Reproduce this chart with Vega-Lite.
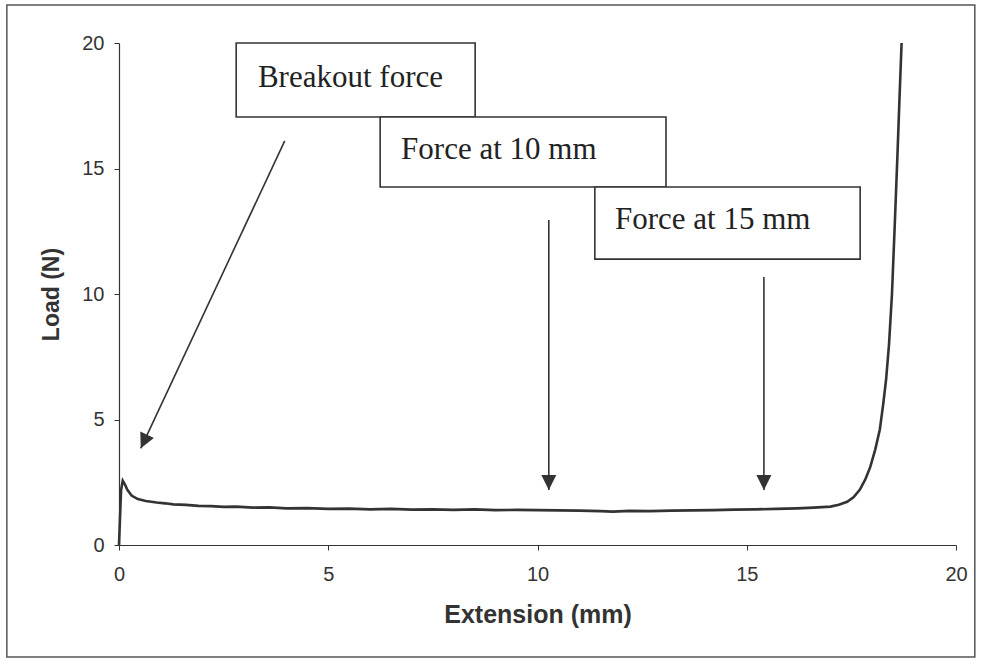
{
  "$schema": "https://vega.github.io/schema/vega-lite/v6.json",
  "width": 837,
  "height": 502,
  "autosize": {"type": "none"},
  "padding": {"left": 119, "top": 43, "right": 26, "bottom": 116},
  "background": "white",
  "config": {
    "view": {"stroke": null},
    "axis": {
      "grid": false,
      "domainColor": "#333",
      "domainWidth": 1.2,
      "tickColor": "#333",
      "tickSize": 5,
      "labelColor": "#333",
      "labelFont": "Liberation Sans",
      "labelFontSize": 20,
      "labelFlush": false,
      "labelOverlap": false,
      "titleColor": "#333",
      "titleFont": "Liberation Sans",
      "titleFontWeight": "bold"
    }
  },
  "datasets": {
    "curve": [
      {"ext": 0.0, "load": 0.0},
      {"ext": 0.02, "load": 0.9},
      {"ext": 0.05, "load": 2.2},
      {"ext": 0.09, "load": 2.56},
      {"ext": 0.14, "load": 2.42},
      {"ext": 0.2, "load": 2.2},
      {"ext": 0.3, "load": 1.97},
      {"ext": 0.45, "load": 1.83},
      {"ext": 0.64, "load": 1.75},
      {"ext": 0.9, "load": 1.69},
      {"ext": 1.1, "load": 1.66},
      {"ext": 1.3, "load": 1.62},
      {"ext": 1.6, "load": 1.6},
      {"ext": 1.9, "load": 1.56},
      {"ext": 2.2, "load": 1.55},
      {"ext": 2.5, "load": 1.52},
      {"ext": 2.8, "load": 1.53},
      {"ext": 3.2, "load": 1.49},
      {"ext": 3.6, "load": 1.5},
      {"ext": 4.0, "load": 1.46},
      {"ext": 4.5, "load": 1.47},
      {"ext": 5.0, "load": 1.44},
      {"ext": 5.5, "load": 1.45},
      {"ext": 6.0, "load": 1.42},
      {"ext": 6.5, "load": 1.44},
      {"ext": 7.0, "load": 1.41},
      {"ext": 7.5, "load": 1.42},
      {"ext": 8.0, "load": 1.4},
      {"ext": 8.5, "load": 1.42},
      {"ext": 9.0, "load": 1.39},
      {"ext": 9.5, "load": 1.4},
      {"ext": 10.0, "load": 1.39},
      {"ext": 10.5, "load": 1.38},
      {"ext": 11.0, "load": 1.37},
      {"ext": 11.5, "load": 1.35},
      {"ext": 11.8, "load": 1.33},
      {"ext": 12.2, "load": 1.36},
      {"ext": 12.7, "load": 1.35},
      {"ext": 13.2, "load": 1.37},
      {"ext": 13.7, "load": 1.38},
      {"ext": 14.2, "load": 1.39},
      {"ext": 14.7, "load": 1.41},
      {"ext": 15.2, "load": 1.42},
      {"ext": 15.7, "load": 1.44},
      {"ext": 16.2, "load": 1.46},
      {"ext": 16.6, "load": 1.49},
      {"ext": 17.0, "load": 1.53},
      {"ext": 17.2, "load": 1.6},
      {"ext": 17.4, "load": 1.72},
      {"ext": 17.55, "load": 1.9},
      {"ext": 17.7, "load": 2.2},
      {"ext": 17.83, "load": 2.6},
      {"ext": 17.95, "load": 3.1},
      {"ext": 18.07, "load": 3.8},
      {"ext": 18.18, "load": 4.6},
      {"ext": 18.26, "load": 5.6},
      {"ext": 18.33, "load": 6.6},
      {"ext": 18.4, "load": 8.0},
      {"ext": 18.47, "load": 10.0},
      {"ext": 18.54, "load": 12.9},
      {"ext": 18.6, "load": 15.5},
      {"ext": 18.65, "load": 17.8},
      {"ext": 18.7, "load": 20.0}
    ],
    "arrows": [
      {"x": 3.96, "y": 16.1, "x2": 0.52, "y2": 3.85, "angle": 25},
      {"x": 10.27, "y": 12.95, "x2": 10.27, "y2": 2.19, "angle": 0},
      {"x": 15.41, "y": 10.68, "x2": 15.41, "y2": 2.19, "angle": 0}
    ],
    "boxes": [
      {"x": 2.8, "x2": 8.51, "y": 20.0, "y2": 17.05, "tx": 3.32, "ty": 18.6, "label": "Breakout force"},
      {"x": 6.24, "x2": 13.07, "y": 17.05, "y2": 14.26, "tx": 6.74, "ty": 15.75, "label": "Force at 10 mm"},
      {"x": 11.37, "x2": 17.71, "y": 14.26, "y2": 11.39, "tx": 11.85, "ty": 12.95, "label": "Force at 15 mm"}
    ],
    "frame": [
      {"x": -2.68, "x2": 20.45, "y": 21.51, "y2": -4.46}
    ]
  },
  "layer": [
    {
      "data": {"name": "frame"},
      "mark": {"type": "rect", "fill": null, "fillOpacity": 0, "stroke": "#555", "strokeWidth": 1.5},
      "encoding": {
        "x": {"field": "x", "type": "quantitative", "scale": {"domain": [0, 20], "nice": false}},
        "x2": {"field": "x2"},
        "y": {"field": "y", "type": "quantitative", "scale": {"domain": [0, 20], "nice": false}},
        "y2": {"field": "y2"}
      }
    },
    {
      "data": {"name": "curve"},
      "mark": {"type": "line", "color": "#333", "strokeWidth": 2.6},
      "encoding": {
        "x": {
          "field": "ext", "type": "quantitative",
          "scale": {"domain": [0, 20], "nice": false},
          "axis": {"values": [0, 5, 10, 15, 20], "title": "Extension (mm)", "titleFontSize": 25, "labelPadding": 14, "titlePadding": 18}
        },
        "y": {
          "field": "load", "type": "quantitative",
          "scale": {"domain": [0, 20], "nice": false},
          "axis": {"values": [0, 5, 10, 15, 20], "title": "Load (N)", "titleFontSize": 23, "labelPadding": 10, "titlePadding": 18}
        },
        "order": {"field": "ext", "type": "quantitative"}
      }
    },
    {
      "data": {"name": "arrows"},
      "mark": {"type": "rule", "color": "#333", "strokeWidth": 1.6},
      "encoding": {
        "x": {"field": "x", "type": "quantitative"},
        "y": {"field": "y", "type": "quantitative"},
        "x2": {"field": "x2"},
        "y2": {"field": "y2"}
      }
    },
    {
      "data": {"name": "arrows"},
      "mark": {"type": "point", "shape": "M-1,-2 L1,-2 L0,0 Z", "filled": true, "color": "#333", "opacity": 1, "size": 225},
      "encoding": {
        "x": {"field": "x2", "type": "quantitative"},
        "y": {"field": "y2", "type": "quantitative"},
        "angle": {"field": "angle", "type": "quantitative", "scale": null}
      }
    },
    {
      "data": {"name": "boxes"},
      "mark": {"type": "rect", "fill": "white", "stroke": "#333", "strokeWidth": 1.6},
      "encoding": {
        "x": {"field": "x", "type": "quantitative"},
        "x2": {"field": "x2"},
        "y": {"field": "y", "type": "quantitative"},
        "y2": {"field": "y2"}
      }
    },
    {
      "data": {"name": "boxes"},
      "mark": {"type": "text", "align": "left", "baseline": "middle", "font": "Liberation Serif", "fontSize": 31, "color": "#222"},
      "encoding": {
        "x": {"field": "tx", "type": "quantitative"},
        "y": {"field": "ty", "type": "quantitative"},
        "text": {"field": "label"}
      }
    }
  ]
}
